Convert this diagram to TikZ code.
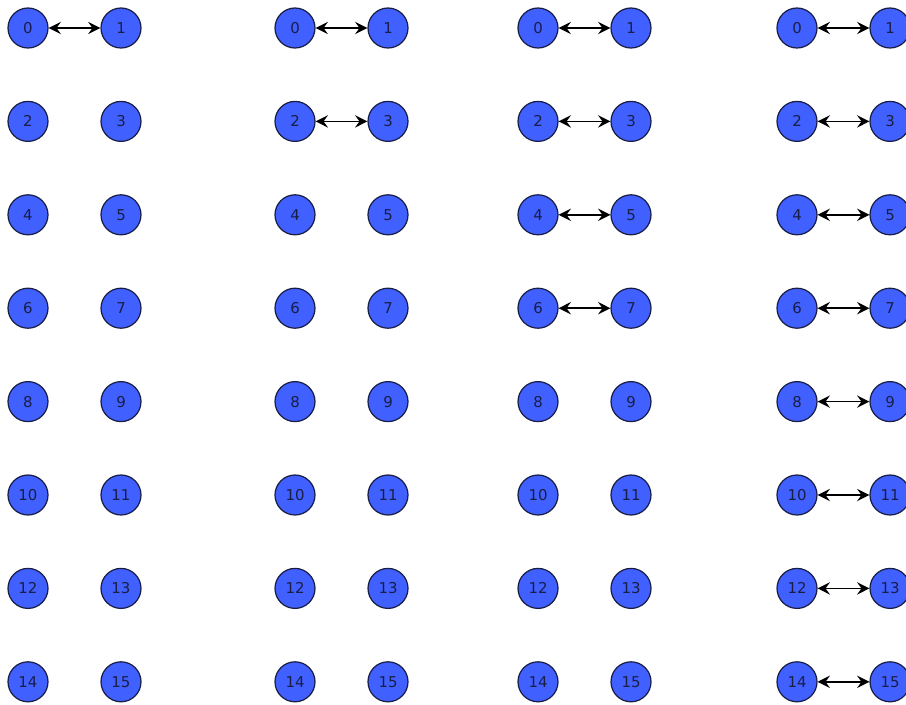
\documentclass[tikz,border=0pt]{standalone}
\usepackage{fontspec}
\setmainfont{DejaVu Sans}
\usetikzlibrary{arrows.meta}
\definecolor{procblue}{RGB}{64,96,255}
\definecolor{procline}{RGB}{25,30,70}

\begin{document}
\begin{tikzpicture}[x=0.02cm,y=-0.02cm,
  proc/.style={circle,draw=procline,fill=procblue,line width=0.7pt,
    minimum size=0.8cm,inner sep=0pt,text=procline,
    font=\fontsize{8.5}{9}\selectfont},
  link/.style={{Stealth[length=7pt,width=7pt,inset=2.5pt]}-{Stealth[length=7pt,width=7pt,inset=2.5pt]},line width=1pt}]
  \useasboundingbox (0,0) rectangle (906,704);
  % four stages: group / left x / right x / number of linked pairs
  \foreach \g/\xl/\xr/\m in {1/28/121/1,2/295/388/2,3/538/631/4,4/797/890/8} {
    \foreach \r in {0,...,7} {
      \pgfmathtruncatemacro\a{2*\r}
      \pgfmathtruncatemacro\b{2*\r+1}
      \pgfmathsetmacro\yy{28+93.4*\r}
      \node[proc] (g\g n\a) at (\xl,\yy) {\a};
      \node[proc] (g\g n\b) at (\xr,\yy) {\b};
    }
    \pgfmathtruncatemacro\last{\m-1}
    \foreach \r in {0,...,\last} {
      \pgfmathtruncatemacro\a{2*\r}
      \pgfmathtruncatemacro\b{2*\r+1}
      \draw[link] (g\g n\a) -- (g\g n\b);
    }
  }
\end{tikzpicture}
\end{document}
